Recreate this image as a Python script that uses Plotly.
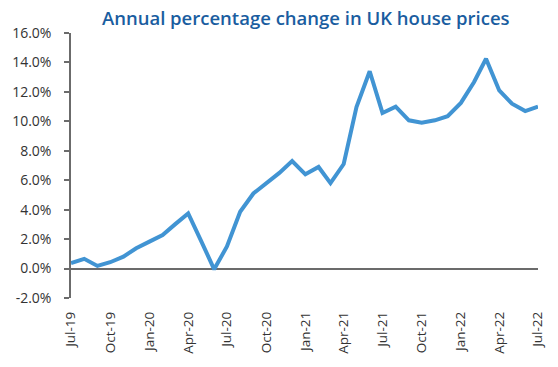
import plotly.graph_objects as go
import pandas as pd

months = pd.date_range("2019-07-01", "2022-07-01", freq="MS").strftime("%Y-%m-%d").tolist()
values = [0.37, 0.66, 0.18, 0.43, 0.81, 1.38, 1.83, 2.28, 3.0, 3.75, 1.9, -0.05,
          1.5, 3.86, 5.1, 5.8, 6.5, 7.3, 6.4, 6.9, 5.8, 7.1, 10.97, 13.4,
          10.57, 11.0, 10.07, 9.9, 10.07, 10.35, 11.25, 12.67, 14.25, 12.1, 11.2, 10.7, 11.0]
y_ticks = [-2, 0, 2, 4, 6, 8, 10, 12, 14, 16]
y_tick_labels = [f"{v:.1f}%" for v in y_ticks]

fig = go.Figure()
fig.add_trace(go.Scatter(x=months, y=values, mode="lines",
                         line=dict(color="#4194d3", width=4)))

fig.update_layout(
    width=558, height=367,
    margin=dict(l=71, r=20, t=33, b=69, autoexpand=False),
    paper_bgcolor="white", plot_bgcolor="white",
    showlegend=False,
    font=dict(family="Open Sans, sans-serif", color="#333333", size=14),
    title=dict(text="Annual percentage change in UK house prices",
               x=0.548, xanchor="center", y=0.95, yanchor="middle",
               font=dict(size=18.5, color="#1a5da0", family="Open Sans, sans-serif", weight=600)),
    xaxis=dict(type="date", range=["2019-07-01", "2022-07-01"],
               tickformat="%b-%y", dtick="M3", tick0="2019-07-01",
               tickangle=-90, showgrid=False, showline=False, zeroline=False,
               ticks="", ticklabelstandoff=10, automargin=False,
               tickfont=dict(size=13.5, color="#333333")),
    yaxis=dict(range=[-2, 16], tickvals=y_ticks, ticktext=y_tick_labels,
               showgrid=False, zeroline=True, zerolinecolor="#6b6b6b", zerolinewidth=1.5,
               showline=True, linecolor="#6b6b6b", linewidth=1.5,
               ticks="outside", ticklen=5, tickcolor="#6b6b6b", tickwidth=1.5,
               ticklabelstandoff=10, automargin=False,
               tickfont=dict(size=14, color="#333333")),
)

fig.write_html("out.html", config={"displayModeBar": False},
               post_script="document.body.style.margin='0';")
